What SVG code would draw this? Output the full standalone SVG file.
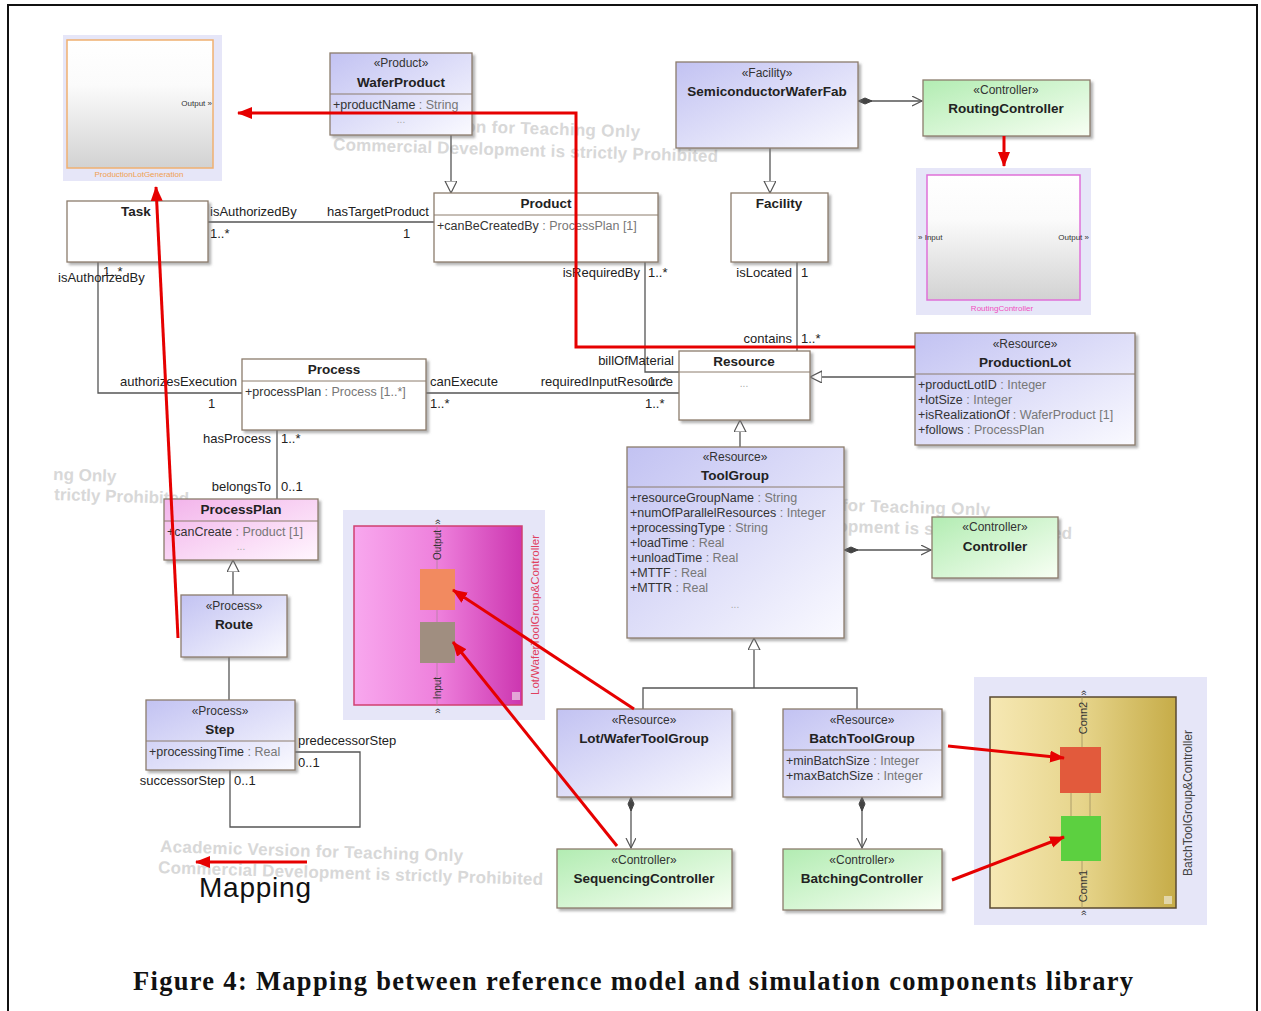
<svg xmlns="http://www.w3.org/2000/svg" width="1261" height="1011" viewBox="0 0 1261 1011">
<style>
.t{font-family:"Liberation Sans",Arial,sans-serif;font-size:13px;fill:#222}
.st{font-family:"Liberation Sans",Arial,sans-serif;font-size:12px;fill:#333;text-anchor:middle}
.nm{font-family:"Liberation Sans",Arial,sans-serif;font-size:13.5px;font-weight:bold;fill:#222;text-anchor:middle}
.at{font-family:"Liberation Sans",Arial,sans-serif;font-size:12.5px;fill:#333}
.ty{fill:#777}
.dots{font-family:"Liberation Sans",Arial,sans-serif;font-size:10px;fill:#aaa;text-anchor:middle}
.box{stroke:#8c7c6c;stroke-width:1.3;filter:url(#sh)}
.sep{stroke:#8c7c6c;stroke-width:1}
.ln{fill:none;stroke:#555;stroke-width:1.3}
.red{fill:none;stroke:#e60000;stroke-width:3}
.wm{font-family:"Liberation Sans",Arial,sans-serif;font-size:17px;font-weight:bold;fill:#d8d8d8}
.sm{font-family:"Liberation Sans",Arial,sans-serif;font-size:8px;fill:#333}
.bg{fill:#e6e6f8}
</style>
<defs>
<filter id="sh" x="-10%" y="-10%" width="130%" height="130%"><feDropShadow dx="2.5" dy="2.5" stdDeviation="1" flood-color="#777" flood-opacity="0.55"/></filter>
<linearGradient id="lav" x1="0" y1="0" x2="1" y2="1"><stop offset="0" stop-color="#c2c2f2"/><stop offset="1" stop-color="#fafaff"/></linearGradient>
<linearGradient id="grn" x1="0" y1="0" x2="1" y2="1"><stop offset="0" stop-color="#b2ecb2"/><stop offset="1" stop-color="#f8fff4"/></linearGradient>
<linearGradient id="pnk" x1="0" y1="0" x2="1" y2="1"><stop offset="0" stop-color="#f2b2ea"/><stop offset="1" stop-color="#fff6fe"/></linearGradient>
<linearGradient id="plg" x1="0" y1="0" x2="0" y2="1"><stop offset="0" stop-color="#ffffff"/><stop offset="0.35" stop-color="#fbfbfb"/><stop offset="1" stop-color="#d2d2d2"/></linearGradient>
<linearGradient id="mag" x1="0" y1="0" x2="1" y2="0"><stop offset="0" stop-color="#f8a8ee"/><stop offset="0.5" stop-color="#ee80dc"/><stop offset="1" stop-color="#cc36b0"/></linearGradient>
<linearGradient id="gold" x1="0" y1="0" x2="1" y2="0"><stop offset="0" stop-color="#f6e8b4"/><stop offset="0.5" stop-color="#e6d48a"/><stop offset="1" stop-color="#c6ac48"/></linearGradient>
<marker id="gen" markerWidth="14" markerHeight="14" refX="12" refY="6" orient="auto" markerUnits="userSpaceOnUse"><path d="M0,0 L12,6 L0,12 Z" fill="#fff" stroke="#555" stroke-width="1.2"/></marker>
<marker id="open" markerWidth="12" markerHeight="12" refX="10" refY="5" orient="auto" markerUnits="userSpaceOnUse"><path d="M0,0 L10,5 L0,10" fill="none" stroke="#555" stroke-width="1.2"/></marker>
<marker id="dia" markerWidth="18" markerHeight="10" refX="1" refY="4" orient="auto" markerUnits="userSpaceOnUse"><path d="M1,4 L8,1 L15,4 L8,7 Z" fill="#444" stroke="#444"/></marker>
<marker id="ra" markerWidth="18" markerHeight="14" refX="14" refY="6" orient="auto" markerUnits="userSpaceOnUse"><path d="M0,0 L15,6 L0,12 Z" fill="#e60000"/></marker>
</defs>
<rect x="0" y="0" width="1261" height="1011" fill="#fff"/>
<rect x="8" y="5" width="1249" height="1015" fill="none" stroke="#111" stroke-width="2"/>

<g id="watermarks">
<text class="wm" x="335" y="128" textLength="305" transform="rotate(1.8 335 128)">Academic Version for Teaching Only</text>
<text class="wm" x="333" y="150" textLength="385" transform="rotate(1.8 333 150)">Commercial Development is strictly Prohibited</text>
<text class="wm" x="53" y="480" transform="rotate(1.8 53 480)">ng Only</text>
<text class="wm" x="54" y="500" transform="rotate(1.8 54 500)">trictly Prohibited</text>
<text class="wm" x="685" y="506" textLength="305" transform="rotate(1.8 685 506)">Academic Version for Teaching Only</text>
<text class="wm" x="687" y="527" textLength="385" transform="rotate(1.8 687 527)">Commercial Development is strictly Prohibited</text>
<text class="wm" x="160" y="852" textLength="303" transform="rotate(1.8 160 852)">Academic Version for Teaching Only</text>
<text class="wm" x="158" y="873" textLength="385" transform="rotate(1.8 158 873)">Commercial Development is strictly Prohibited</text>
</g>

<g id="connectors">
<path class="ln" d="M451,135 V193" marker-end="url(#gen)"/>
<path class="ln" d="M770,148 V193" marker-end="url(#gen)"/>
<path class="ln" d="M233,595 V560" marker-end="url(#gen)"/>
<path class="ln" d="M740,447 V420" marker-end="url(#gen)"/>
<path class="ln" d="M915,377 H810" marker-end="url(#gen)"/>
<path class="ln" d="M643,709 V688 H857 V709"/>
<path class="ln" d="M754,688 V638" marker-end="url(#gen)"/>
<path class="ln" d="M858,101 H922" marker-start="url(#dia)" marker-end="url(#open)"/>
<path class="ln" d="M844,550 H931" marker-start="url(#dia)" marker-end="url(#open)"/>
<path class="ln" d="M631,797 V848" marker-start="url(#dia)" marker-end="url(#open)"/>
<path class="ln" d="M862,797 V848" marker-start="url(#dia)" marker-end="url(#open)"/>
<path class="ln" d="M208,222 H434"/>
<path class="ln" d="M98,262 V393 H242"/>
<path class="ln" d="M426,393 H679"/>
<path class="ln" d="M277,430 V499"/>
<path class="ln" d="M229,657 V700"/>
<path class="ln" d="M295,752 H360 V827 H230 V770"/>
<path class="ln" d="M797,262 V351"/>
<path class="ln" d="M645,262 V372 H679"/>
<text class="t" x="210" y="216">isAuthorizedBy</text>
<text class="t" x="210" y="238">1..*</text>
<text class="t" x="429" y="216" text-anchor="end">hasTargetProduct</text>
<text class="t" x="403" y="238">1</text>
<text class="t" x="58" y="282">isAuthorizedBy</text>
<text class="t" x="103" y="276">1..*</text>
<text class="t" x="237" y="386" text-anchor="end">authorizesExecution</text>
<text class="t" x="208" y="408">1</text>
<text class="t" x="430" y="386">canExecute</text>
<text class="t" x="430" y="408">1..*</text>
<text class="t" x="673" y="386" text-anchor="end">requiredInputResource</text>
<text class="t" x="648" y="386">1..*</text>
<text class="t" x="645" y="408">1..*</text>
<text class="t" x="271" y="443" text-anchor="end">hasProcess</text>
<text class="t" x="281" y="443">1..*</text>
<text class="t" x="271" y="491" text-anchor="end">belongsTo</text>
<text class="t" x="281" y="491">0..1</text>
<text class="t" x="298" y="745">predecessorStep</text>
<text class="t" x="298" y="767">0..1</text>
<text class="t" x="225" y="785" text-anchor="end">successorStep</text>
<text class="t" x="234" y="785">0..1</text>
<text class="t" x="792" y="277" text-anchor="end">isLocated</text>
<text class="t" x="801" y="277">1</text>
<text class="t" x="792" y="343" text-anchor="end">contains</text>
<text class="t" x="801" y="343">1..*</text>
<text class="t" x="640" y="277" text-anchor="end">isRequiredBy</text>
<text class="t" x="648" y="277">1..*</text>
<text class="t" x="674" y="365" text-anchor="end">billOfMaterial</text>
</g>

<g id="n-ProductionLotGeneration">
<rect class="bg" x="63" y="35" width="159" height="146"/>
<rect x="67" y="40" width="146" height="128" fill="url(#plg)" stroke="#f0b070" stroke-width="1.5"/>
<text class="sm" x="212" y="106" text-anchor="end">Output »</text>
<text class="sm" x="139" y="177" text-anchor="middle" style="fill:#f0a050">ProductionLotGeneration</text>
</g>

<g id="n-WaferProduct">
<rect class="box" x="330" y="53" width="142" height="82" fill="url(#lav)"/>
<text class="st" x="401" y="67">«Product»</text>
<text class="nm" x="401" y="87">WaferProduct</text>
<line class="sep" x1="330" y1="94" x2="472" y2="94"/>
<text class="at" x="333" y="109">+productName<tspan class="ty"> : String</tspan></text>
<text class="dots" x="401" y="123">...</text>
</g>

<g id="n-SemiconductorWaferFab">
<rect class="box" x="676" y="62" width="182" height="86" fill="url(#lav)"/>
<text class="st" x="767" y="77">«Facility»</text>
<text class="nm" x="767" y="96">SemiconductorWaferFab</text>
</g>

<g id="n-RoutingController">
<rect class="box" x="923" y="80" width="167" height="56" fill="url(#grn)"/>
<text class="st" x="1006" y="94">«Controller»</text>
<text class="nm" x="1006" y="113">RoutingController</text>
</g>

<g id="n-RoutingControllerBlock">
<rect class="bg" x="916" y="168" width="175" height="147"/>
<rect x="927" y="175" width="153" height="125" fill="url(#plg)" stroke="#e070d8" stroke-width="1.5"/>
<text class="sm" x="918" y="240">» Input</text>
<text class="sm" x="1089" y="240" text-anchor="end">Output »</text>
<text class="sm" x="1002" y="311" text-anchor="middle" style="fill:#f050c0">RoutingController</text>
</g>

<g id="n-Task">
<rect class="box" x="67" y="201" width="141" height="61" fill="#fff"/>
<text class="nm" x="136" y="216">Task</text>
</g>

<g id="n-Product">
<rect class="box" x="434" y="193" width="224" height="69" fill="#fff"/>
<text class="nm" x="546" y="208">Product</text>
<line class="sep" x1="434" y1="215" x2="658" y2="215"/>
<text class="at" x="437" y="230">+canBeCreatedBy<tspan class="ty"> : ProcessPlan [1]</tspan></text>
</g>

<g id="n-Facility">
<rect class="box" x="731" y="193" width="97" height="69" fill="#fff"/>
<text class="nm" x="779" y="208">Facility</text>
</g>

<g id="n-Process">
<rect class="box" x="242" y="359" width="184" height="71" fill="#fff"/>
<text class="nm" x="334" y="374">Process</text>
<line class="sep" x1="242" y1="381" x2="426" y2="381"/>
<text class="at" x="245" y="396">+processPlan<tspan class="ty"> : Process [1..*]</tspan></text>
</g>

<g id="n-Resource">
<rect class="box" x="679" y="351" width="131" height="69" fill="#fff"/>
<text class="nm" x="744" y="366">Resource</text>
<line class="sep" x1="679" y1="372" x2="810" y2="372"/>
<text class="dots" x="744" y="387">...</text>
</g>

<g id="n-ProductionLot">
<rect class="box" x="915" y="333" width="220" height="112" fill="url(#lav)"/>
<text class="st" x="1025" y="348">«Resource»</text>
<text class="nm" x="1025" y="367">ProductionLot</text>
<line class="sep" x1="915" y1="374" x2="1135" y2="374"/>
<text class="at" x="918" y="389">+productLotID<tspan class="ty"> : Integer</tspan></text>
<text class="at" x="918" y="404">+lotSize<tspan class="ty"> : Integer</tspan></text>
<text class="at" x="918" y="419">+isRealizationOf<tspan class="ty"> : WaferProduct [1]</tspan></text>
<text class="at" x="918" y="434">+follows<tspan class="ty"> : ProcessPlan</tspan></text>
</g>

<g id="n-ProcessPlan">
<rect class="box" x="164" y="499" width="154" height="61" fill="url(#pnk)"/>
<text class="nm" x="241" y="514">ProcessPlan</text>
<line class="sep" x1="164" y1="521" x2="318" y2="521"/>
<text class="at" x="167" y="536">+canCreate<tspan class="ty"> : Product [1]</tspan></text>
<text class="dots" x="241" y="550">...</text>
</g>

<g id="n-Route">
<rect class="box" x="181" y="595" width="106" height="62" fill="url(#lav)"/>
<text class="st" x="234" y="610">«Process»</text>
<text class="nm" x="234" y="629">Route</text>
</g>

<g id="n-Step">
<rect class="box" x="146" y="700" width="149" height="70" fill="url(#lav)"/>
<text class="st" x="220" y="715">«Process»</text>
<text class="nm" x="220" y="734">Step</text>
<line class="sep" x1="146" y1="741" x2="295" y2="741"/>
<text class="at" x="149" y="756">+processingTime<tspan class="ty"> : Real</tspan></text>
</g>

<g id="n-ToolGroup">
<rect class="box" x="627" y="447" width="217" height="191" fill="url(#lav)"/>
<text class="st" x="735" y="461">«Resource»</text>
<text class="nm" x="735" y="480">ToolGroup</text>
<line class="sep" x1="627" y1="487" x2="844" y2="487"/>
<text class="at" x="630" y="502">+resourceGroupName<tspan class="ty"> : String</tspan></text>
<text class="at" x="630" y="517">+numOfParallelResources<tspan class="ty"> : Integer</tspan></text>
<text class="at" x="630" y="532">+processingType<tspan class="ty"> : String</tspan></text>
<text class="at" x="630" y="547">+loadTime<tspan class="ty"> : Real</tspan></text>
<text class="at" x="630" y="562">+unloadTime<tspan class="ty"> : Real</tspan></text>
<text class="at" x="630" y="577">+MTTF<tspan class="ty"> : Real</tspan></text>
<text class="at" x="630" y="592">+MTTR<tspan class="ty"> : Real</tspan></text>
<text class="dots" x="735" y="608">...</text>
</g>

<g id="n-Controller">
<rect class="box" x="932" y="517" width="126" height="61" fill="url(#grn)"/>
<text class="st" x="995" y="531">«Controller»</text>
<text class="nm" x="995" y="551">Controller</text>
</g>

<g id="n-LotWaferToolGroup">
<rect class="box" x="557" y="709" width="175" height="88" fill="url(#lav)"/>
<text class="st" x="644" y="724">«Resource»</text>
<text class="nm" x="644" y="743">Lot/WaferToolGroup</text>
</g>

<g id="n-BatchToolGroup">
<rect class="box" x="783" y="709" width="159" height="88" fill="url(#lav)"/>
<text class="st" x="862" y="724">«Resource»</text>
<text class="nm" x="862" y="743">BatchToolGroup</text>
<line class="sep" x1="783" y1="750" x2="942" y2="750"/>
<text class="at" x="786" y="765">+minBatchSize<tspan class="ty"> : Integer</tspan></text>
<text class="at" x="786" y="780">+maxBatchSize<tspan class="ty"> : Integer</tspan></text>
</g>

<g id="n-SequencingController">
<rect class="box" x="557" y="849" width="175" height="59" fill="url(#grn)"/>
<text class="st" x="644" y="864">«Controller»</text>
<text class="nm" x="644" y="883">SequencingController</text>
</g>

<g id="n-BatchingController">
<rect class="box" x="783" y="849" width="159" height="61" fill="url(#grn)"/>
<text class="st" x="862" y="864">«Controller»</text>
<text class="nm" x="862" y="883">BatchingController</text>
</g>

<g id="n-LotWaferToolGroupController">
<rect class="bg" x="343" y="510" width="202" height="210"/>
<rect x="354" y="526" width="168" height="179" fill="url(#mag)" stroke="#d04070" stroke-width="1.5"/>
<line x1="437" y1="526" x2="437" y2="705" stroke="#b080a0" stroke-width="0.8"/>
<rect x="420" y="569" width="35" height="41" fill="#f28a60"/>
<rect x="420" y="622" width="35" height="41" fill="#a08e80"/>
<text class="sm" style="font-size:10px" transform="translate(441,545) rotate(-90)" text-anchor="middle">Output</text>
<text class="sm" style="font-size:10px" transform="translate(441,688) rotate(-90)" text-anchor="middle">Input</text>
<text class="sm" style="font-size:10px" transform="translate(441,522) rotate(-90)" text-anchor="middle">»</text>
<text class="sm" style="font-size:10px" transform="translate(441,711) rotate(-90)" text-anchor="middle">»</text>
<text class="sm" style="font-size:11.5px;fill:#e04060" transform="translate(539,615) rotate(-90)" text-anchor="middle">Lot/WaferToolGroup&amp;Controller</text>
<rect x="512" y="692" width="8" height="8" fill="#e8c0e0" opacity="0.8"/>
</g>

<g id="n-BatchToolGroupController">
<rect class="bg" x="974" y="677" width="233" height="248"/>
<rect x="990" y="697" width="186" height="211" fill="url(#gold)" stroke="#5a4a30" stroke-width="1.5"/>
<line x1="1082" y1="697" x2="1082" y2="747" stroke="#a09060" stroke-width="0.8"/>
<line x1="1082" y1="861" x2="1082" y2="908" stroke="#a09060" stroke-width="0.8"/>
<line x1="1071" y1="793" x2="1071" y2="816" stroke="#a09060" stroke-width="0.8"/>
<line x1="1090" y1="793" x2="1090" y2="816" stroke="#a09060" stroke-width="0.8"/>
<rect x="1060" y="747" width="41" height="46" fill="#e25a3c"/>
<rect x="1061" y="816" width="40" height="45" fill="#5cd040"/>
<text class="sm" style="font-size:11px" transform="translate(1087,718) rotate(-90)" text-anchor="middle">Conn2</text>
<text class="sm" style="font-size:11px" transform="translate(1087,886) rotate(-90)" text-anchor="middle">Conn1</text>
<text class="sm" style="font-size:10px" transform="translate(1087,693) rotate(-90)" text-anchor="middle">»</text>
<text class="sm" style="font-size:10px" transform="translate(1087,913) rotate(-90)" text-anchor="middle">»</text>
<text class="sm" style="font-size:12px;fill:#444" transform="translate(1192,803) rotate(-90)" text-anchor="middle">BatchToolGroup&amp;Controller</text>
<rect x="1164" y="896" width="8" height="8" fill="#e8e0c0" opacity="0.8"/>
</g>

<g id="mapping-arrows">
<path class="red" d="M915,347 H576 V113 H238" marker-end="url(#ra)"/>
<path class="red" d="M1004,136 V166" marker-end="url(#ra)"/>
<path class="red" d="M178,638 L156,187" marker-end="url(#ra)"/>
<path class="red" d="M634,709 L453,590" marker-end="url(#ra)"/>
<path class="red" d="M617,846 L453,642" marker-end="url(#ra)"/>
<path class="red" d="M948,746 L1064,758" marker-end="url(#ra)"/>
<path class="red" d="M952,880 L1064,837" marker-end="url(#ra)"/>
<path class="red" d="M307,862 H196" marker-end="url(#ra)"/>
</g>

<text x="199" y="897" style="font-family:'Liberation Sans',Arial,sans-serif;font-size:28px;fill:#111" textLength="112">Mapping</text>
<text x="633" y="990" text-anchor="middle" textLength="1000" style="font-family:'Liberation Serif','Times New Roman',serif;font-size:26.5px;font-weight:bold;fill:#111">Figure 4: Mapping between reference model and simulation components library</text>
</svg>
